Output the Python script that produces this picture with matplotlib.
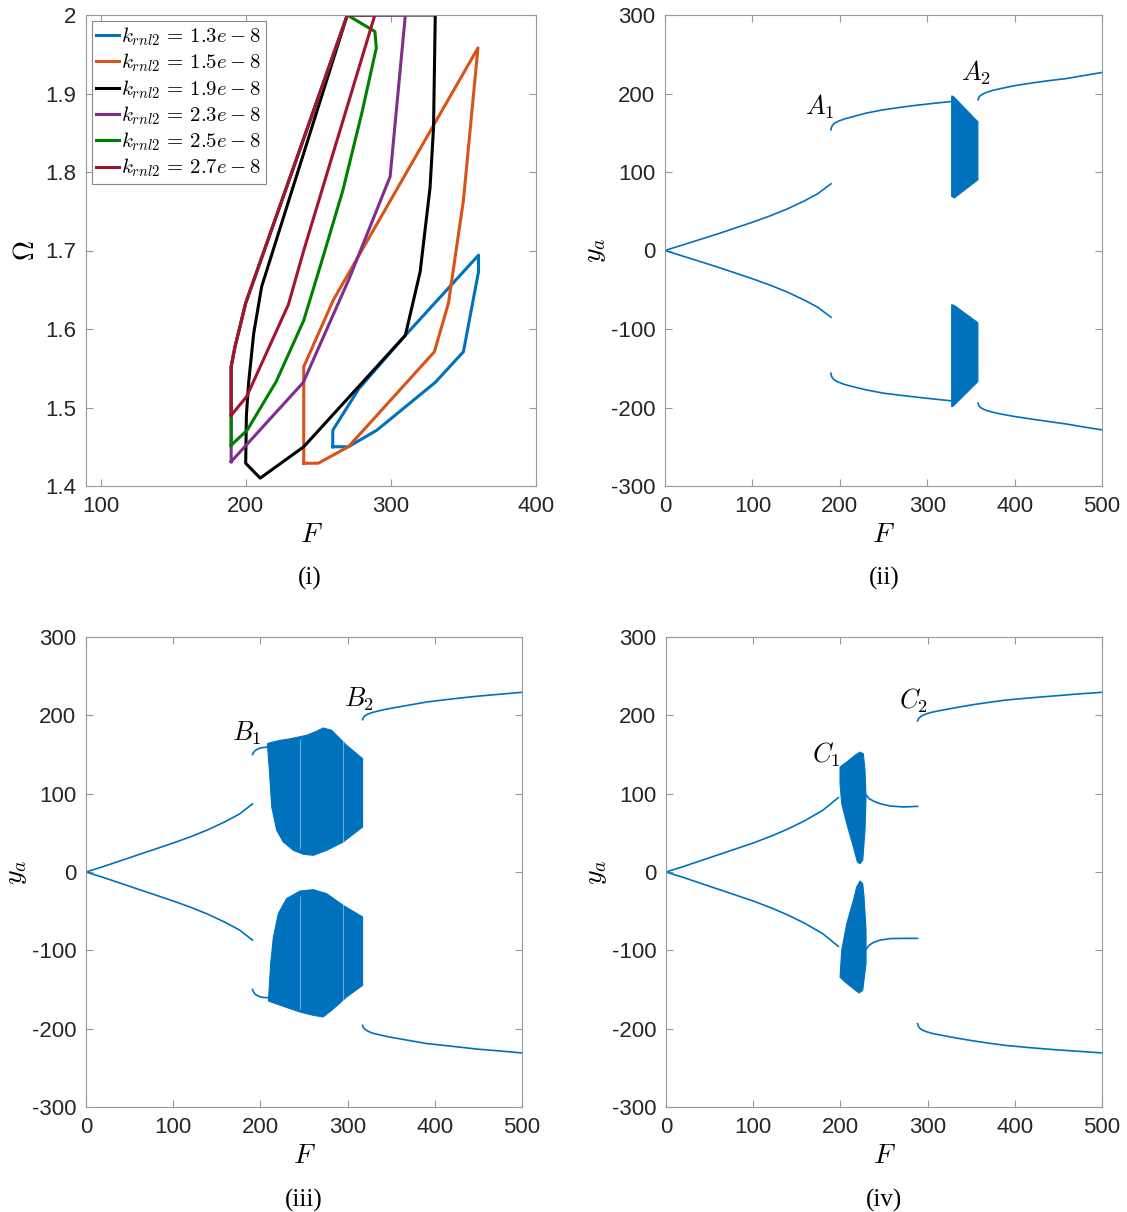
import numpy as np
import matplotlib
matplotlib.use("Agg")
import matplotlib.pyplot as plt

plt.rcParams["font.family"] = ["Liberation Sans", "DejaVu Sans"]
plt.rcParams["mathtext.fontset"] = "cm"
plt.rcParams["axes.unicode_minus"] = False

BLUE = "#0072BD"

# ---- panel (i): stability boundaries in the (F, Omega) plane ----
k_labels = ["1.3e-8", "1.5e-8", "1.9e-8", "2.3e-8", "2.5e-8", "2.7e-8"]
k_colors = [BLUE, "#D95319", "black", "#7E2F8E", "#008000", "#A2142F"]

F_13 = [260, 260, 278, 310, 360.4, 360.4, 350, 330.6, 290.3, 270.8, 260]
W_13 = [1.45, 1.471, 1.524, 1.592, 1.694, 1.673, 1.571, 1.532, 1.471, 1.45, 1.45]

F_15 = [240, 240, 260.4, 360, 350, 339.7, 330, 270.8, 250, 240]
W_15 = [1.429, 1.552, 1.637, 1.958, 1.764, 1.633, 1.571, 1.45, 1.429, 1.429]

F_19 = [270, 330.6, 329.4, 327, 320.2, 310, 240, 210, 200, 200.5, 202, 205.5, 211, 270]
W_19 = [2.0, 2.0, 1.856, 1.78, 1.673, 1.592, 1.45, 1.41, 1.429, 1.49, 1.531, 1.594, 1.654, 2.0]

F_23 = [190, 190, 192.6, 200, 270, 310, 299.5, 271.5, 239.7, 190]
W_23 = [1.431, 1.552, 1.577, 1.633, 2.0, 2.0, 1.794, 1.665, 1.532, 1.431]

F_25 = [190, 190, 192.6, 200, 270, 289, 290, 280, 267, 253, 240, 221, 201, 190]
W_25 = [1.452, 1.552, 1.577, 1.633, 2.0, 1.979, 1.958, 1.875, 1.777, 1.69, 1.611, 1.533, 1.471, 1.452]

F_27 = [190, 190, 192.6, 200, 270, 289, 240, 229.4, 200.7, 190]
W_27 = [1.49, 1.552, 1.577, 1.633, 2.0, 2.0, 1.70, 1.631, 1.514, 1.49]

# ---- panel (ii) ----
F2_a = [0, 20, 40, 60, 80, 100, 120, 140, 160, 175, 190]
Y2_a = [0, 7, 14, 21, 28.5, 36, 44, 53, 63.5, 72.5, 85]
F2_b = [189.8, 190.5, 192, 194.5, 198, 205, 215, 230, 249.6, 270, 287.7, 310, 327.7]
Y2_bu = [153.7, 157, 160, 162.5, 164.5, 167.5, 170.5, 175, 179.2, 182.5, 185, 187.8, 189.8]
Y2_bl = [-156.3, -160, -163, -165.5, -167.5, -170.5, -173.5, -177.5, -181.7, -184.5, -186.8, -189.5, -191.5]
F2_c = [358.2, 359, 361, 364, 368, 375, 383, 400, 421.1, 440, 459, 480, 500]
Y2_cu = [192, 195, 197.5, 199.5, 201.5, 204, 206, 210, 213.6, 216.5, 219, 223, 226.8]
Y2_cl = [-194.5, -197.5, -200, -202, -203.8, -206, -208, -211.5, -215, -218, -221, -225, -228.5]
band2_up_F = [328, 330, 358, 358, 331, 328]
band2_up_Y = [197, 196, 164, 90, 67, 69]
band2_lo_F = [328, 331, 358, 358, 330, 328]
band2_lo_Y = [-69, -70, -92, -167, -198, -199]

# ---- panel (iii) ----
F3_a = [0, 20, 40, 60, 80, 100, 120, 140, 160, 176, 191]
Y3_a = [0, 7, 14.5, 22, 29.5, 37, 45, 54, 64.5, 74, 87]
F3_b = [191, 192, 194, 197, 200, 204, 209]
Y3_bu = [150, 152.5, 155, 157, 158.3, 159, 159.5]
Y3_bl = [-150, -153, -156, -158, -159.5, -160.2, -160.4]
F3_c = [317.2, 318, 320, 323, 328, 335, 345, 360, 390.5, 420, 447.7, 475, 500]
Y3_cu = [194.5, 197, 199.5, 201.5, 203.5, 205.5, 208, 211, 217, 221, 224.3, 227, 229.4]
Y3_cl = [-195.7, -198.5, -201, -203, -205.5, -207.5, -210, -213, -219, -222.5, -226, -228.5, -231]
band3_up_F = [208, 211, 222.5, 234, 253, 265, 272, 281.7, 298.9, 317.2, 317.2, 295, 276, 260.7,
              249.2, 237.8, 226.3, 218.7, 213, 210.3]
band3_up_Y = [163.8, 165, 168, 170, 174.5, 180, 183.8, 180.9, 161.7, 144.7, 57.4, 38.3, 27.7, 21.3,
              22.6, 27.7, 38.3, 53.2, 83, 129.8]
band3_lo_F = [209.2, 211.8, 214.9, 220.6, 230, 245.4, 260.7, 276, 295, 317.2, 317.2, 298.9,
              281.7, 272, 260.7, 245.4, 226.3, 209.2]
band3_lo_Y = [-163.8, -117, -83, -53, -34, -24.3, -22.6, -27.7, -42.6, -57.4, -144.7, -159.6,
              -176.6, -185, -183, -178.7, -171.5, -164.7]
stripes3 = [245, 295]

# ---- panel (iv) ----
F4_a = [0, 20, 40, 60, 80, 100, 120, 140, 160, 180, 197.7]
Y4_a = [0, 7, 14.5, 22, 29.5, 37, 45.5, 55, 66, 79, 95]
F4_bu = [230, 233, 237.8, 245.4, 256.9, 272, 288.5]
Y4_bu = [97.9, 93.5, 90.6, 87.2, 84.3, 83, 83.8]
F4_bl = [230, 233, 237.8, 245.4, 256.9, 272, 288.5]
Y4_bl = [-97.9, -93.5, -90, -87, -85, -84.7, -84.7]
F4_c = [288.5, 289.5, 291.2, 294, 298.9, 305, 314, 333.2, 352, 370, 390.5, 420, 447.7, 475, 500]
Y4_cu = [192.8, 195.5, 197.5, 199.8, 202, 204, 206, 210, 213.6, 216.5, 219.6, 222.5, 225, 227.5, 229.4]
Y4_cl = [-193.6, -197, -199.5, -201.8, -204, -206, -208, -212, -215.5, -218.5, -221.5, -224.5, -227, -229, -231]
band4_up_F = [199.6, 207.3, 216.8, 222.5, 226.3, 228.2, 229.4, 228.2, 225.6, 222.5, 219.5,
              214.9, 207.3, 201.5, 199.6]
band4_up_Y = [134, 140.4, 149, 153, 151, 129.8, 95.7, 53.2, 14.9, 10.6, 12.8, 31.9, 61.7, 87.2, 112.8]
band4_lo_F = [222.5, 218.7, 214.9, 207.3, 201.5, 199.6, 205.3, 214.9, 221.4, 225.6, 229.4,
              229.4, 227.1, 225.6]
band4_lo_Y = [-11.5, -19.1, -36.2, -66, -100, -134, -140.4, -149, -154.5, -151, -117, -74.5,
              -31.9, -14.9]

fig = plt.figure(figsize=(11.27, 12.12), dpi=100)
ax1 = fig.add_axes([86 / 1127, 1 - 486 / 1212, 450 / 1127, 471 / 1212])
ax2 = fig.add_axes([665 / 1127, 1 - 486 / 1212, 437 / 1127, 471 / 1212])
ax3 = fig.add_axes([86 / 1127, 1 - 1107 / 1212, 436 / 1127, 470 / 1212])
ax4 = fig.add_axes([666 / 1127, 1 - 1107 / 1212, 436 / 1127, 470 / 1212])


def style(ax):
    for s in ax.spines.values():
        s.set_color("#999999")
        s.set_linewidth(0.8)
    ax.tick_params(direction="in", length=5, width=0.8, color="#999999",
                   labelcolor="#262626", labelsize=16, top=True, right=True, pad=7)


# panel (i)
polys = [(F_13, W_13), (F_15, W_15), (F_19, W_19), (F_23, W_23), (F_25, W_25), (F_27, W_27)]
for (f, w), lab, c in zip(polys, k_labels, k_colors):
    ax1.plot(f, w, color=c, lw=2.2, label=r"$k_{rnl2}\,=\,%s$" % lab)
ax1.set_xlim(90, 400)
ax1.set_ylim(1.4, 2.0)
ax1.set_xticks([100, 200, 300, 400])
ax1.set_yticks([1.4, 1.5, 1.6, 1.7, 1.8, 1.9, 2.0])
ax1.set_yticklabels(["1.4", "1.5", "1.6", "1.7", "1.8", "1.9", "2"])
style(ax1)
ax1.set_xlabel(r"$F$", fontsize=20, labelpad=4)
ax1.set_ylabel(r"$\Omega$", fontsize=20, labelpad=4)
leg = ax1.legend(loc="upper left", fontsize=15, handlelength=1.1, handletextpad=0.1,
                 labelspacing=0.18, borderpad=0.2, borderaxespad=0.3, fancybox=False,
                 framealpha=1)
leg.get_frame().set_edgecolor("#888888")
leg.get_frame().set_linewidth(0.8)

# panels (ii)-(iv)
for ax in (ax2, ax3, ax4):
    ax.set_xlim(0, 500)
    ax.set_ylim(-300, 300)
    ax.set_xticks([0, 100, 200, 300, 400, 500])
    ax.set_yticks([-300, -200, -100, 0, 100, 200, 300])
    style(ax)
    ax.set_xlabel(r"$F$", fontsize=20, labelpad=4)
    ax.set_ylabel(r"$y_a$", fontsize=20, labelpad=2)

lw = 1.2
ax2.plot(F2_a, Y2_a, color=BLUE, lw=lw)
ax2.plot(F2_a, [-v for v in Y2_a], color=BLUE, lw=lw)
ax2.plot(F2_b, Y2_bu, color=BLUE, lw=lw)
ax2.plot(F2_b, Y2_bl, color=BLUE, lw=lw)
ax2.plot(F2_c, Y2_cu, color=BLUE, lw=lw)
ax2.plot(F2_c, Y2_cl, color=BLUE, lw=lw)
ax2.fill(band2_up_F, band2_up_Y, color=BLUE, lw=0.8)
ax2.fill(band2_lo_F, band2_lo_Y, color=BLUE, lw=0.8)
ax2.text(177, 183, r"$A_1$", fontsize=19, ha="center", va="center")
ax2.text(356, 226, r"$A_2$", fontsize=19, ha="center", va="center")

ax3.plot(F3_a, Y3_a, color=BLUE, lw=lw)
ax3.plot(F3_a, [-v for v in Y3_a], color=BLUE, lw=lw)
ax3.plot(F3_b, Y3_bu, color=BLUE, lw=lw)
ax3.plot(F3_b, Y3_bl, color=BLUE, lw=lw)
ax3.plot(F3_c, Y3_cu, color=BLUE, lw=lw)
ax3.plot(F3_c, Y3_cl, color=BLUE, lw=lw)
ax3.fill(band3_up_F, band3_up_Y, color=BLUE, lw=0.8)
ax3.fill(band3_lo_F, band3_lo_Y, color=BLUE, lw=0.8)
for s in stripes3:
    ax3.vlines(s, 30, 170, color="white", lw=0.8, alpha=0.4)
    ax3.vlines(s, -175, -30, color="white", lw=0.8, alpha=0.4)
ax3.text(184, 177, r"$B_1$", fontsize=19, ha="center", va="center")
ax3.text(313, 221, r"$B_2$", fontsize=19, ha="center", va="center")

ax4.plot(F4_a, Y4_a, color=BLUE, lw=lw)
ax4.plot(F4_a, [-v for v in Y4_a], color=BLUE, lw=lw)
ax4.plot(F4_bu, Y4_bu, color=BLUE, lw=lw)
ax4.plot(F4_bl, Y4_bl, color=BLUE, lw=lw)
ax4.plot(F4_c, Y4_cu, color=BLUE, lw=lw)
ax4.plot(F4_c, Y4_cl, color=BLUE, lw=lw)
ax4.fill(band4_up_F, band4_up_Y, color=BLUE, lw=0.8)
ax4.fill(band4_lo_F, band4_lo_Y, color=BLUE, lw=0.8)
ax4.text(184, 150, r"$C_1$", fontsize=19, ha="center", va="center")
ax4.text(284, 219, r"$C_2$", fontsize=19, ha="center", va="center")

caps = [("(i)", 310, 578), ("(ii)", 884, 578), ("(iii)", 304, 1200), ("(iv)", 884, 1200)]
for txt, px, py in caps:
    fig.text(px / 1127, 1 - py / 1212, txt, ha="center", va="center",
             family="Liberation Serif", fontsize=18)

fig.savefig("out.png", dpi=100)
